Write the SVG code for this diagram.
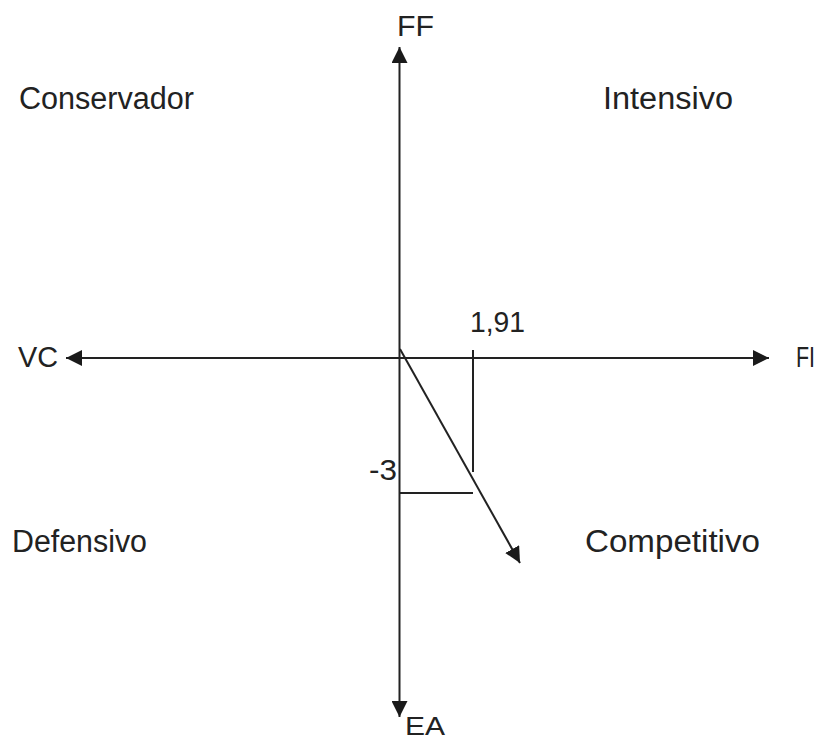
<svg xmlns="http://www.w3.org/2000/svg" width="823" height="736" viewBox="0 0 823 736">
<style>
text{font-family:"Liberation Sans",Arial,Helvetica,sans-serif;fill:#222;}
.lbl{font-size:31px;}
.ax{font-size:30px;}
.ln{stroke:#222;stroke-width:2;fill:none;}
</style>
<defs>
<marker id="ah" viewBox="0 0 16 16" refX="16" refY="8" markerWidth="16" markerHeight="16" markerUnits="userSpaceOnUse" orient="auto-start-reverse">
<path d="M0,0 L16,8 L0,16 z" fill="#1a1a1a"/>
</marker>
</defs>
<rect width="823" height="736" fill="#fff"/>
<g id="connectors">
<line class="ln" x1="399.5" y1="717" x2="399.5" y2="47" marker-start="url(#ah)" marker-end="url(#ah)"/>
<line class="ln" x1="66" y1="358" x2="769" y2="358" marker-start="url(#ah)" marker-end="url(#ah)"/>
<line class="ln" x1="400" y1="349" x2="520" y2="563" marker-end="url(#ah)"/>
<line class="ln" x1="473" y1="350" x2="473" y2="472"/>
<line class="ln" x1="399.5" y1="493" x2="473" y2="493"/>
</g>
<g id="axis-FF"><text class="ax" x="397" y="36" textLength="37" lengthAdjust="spacingAndGlyphs">FF</text></g>
<g id="axis-EA"><text x="405" y="735" font-size="26" textLength="40" lengthAdjust="spacingAndGlyphs">EA</text></g>
<g id="axis-VC"><text class="ax" x="18" y="367" textLength="40" lengthAdjust="spacingAndGlyphs">VC</text></g>
<g id="axis-FI"><text x="796" y="367" font-size="29" textLength="19" lengthAdjust="spacingAndGlyphs">FI</text></g>
<g id="val-191"><text class="ax" x="470" y="332" textLength="55" lengthAdjust="spacingAndGlyphs">1,91</text></g>
<g id="val-3"><text class="ax" x="369" y="480" textLength="28" lengthAdjust="spacingAndGlyphs">-3</text></g>
<g id="q-conservador"><text class="lbl" x="19" y="109" textLength="175" lengthAdjust="spacingAndGlyphs">Conservador</text></g>
<g id="q-intensivo"><text class="lbl" x="603" y="109" textLength="130" lengthAdjust="spacingAndGlyphs">Intensivo</text></g>
<g id="q-defensivo"><text class="lbl" x="12" y="552" textLength="135" lengthAdjust="spacingAndGlyphs">Defensivo</text></g>
<g id="q-competitivo"><text class="lbl" x="585" y="552" textLength="175" lengthAdjust="spacingAndGlyphs">Competitivo</text></g>
</svg>
